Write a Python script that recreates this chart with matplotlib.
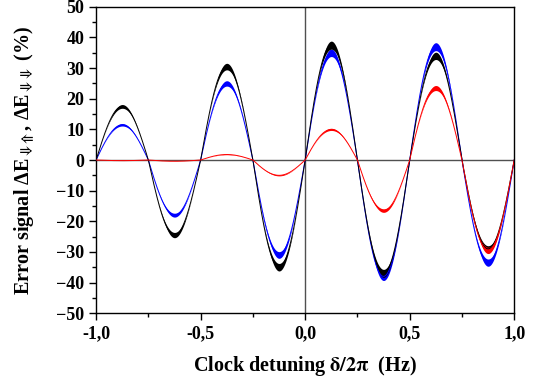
import matplotlib
matplotlib.use('Agg')
import matplotlib.pyplot as plt
import numpy as np
from matplotlib.ticker import MultipleLocator, FuncFormatter

plt.rcParams['font.family'] = ['Liberation Serif', 'DejaVu Serif']
plt.rcParams['font.weight'] = 'bold'
plt.rcParams['mathtext.fontset'] = 'stix'

# lobe centres at -0.875, -0.625, ..., 0.875 (Hz); peak value of each lobe (%)
lobe_centres = [-0.875, -0.625, -0.375, -0.125, 0.125, 0.375, 0.625, 0.875]
black_peaks = [17.5, -24.5, 30.5, -35.0, 37.5, -37.0, 34.0, -29.0]
blue_peaks = [11.5, -18.0, 25.0, -31.0, 35.0, -38.0, 37.0, -33.5]
red_peaks = [-0.2, -0.4, 1.8, -5.0, 10.0, -16.5, 23.5, -29.5]

x = np.linspace(-1, 1, 2001)
k = np.clip(((x + 1) / 0.25).astype(int), 0, 7)
shape = np.abs(np.sin(4 * np.pi * x))


def curve(peaks):
    return np.asarray(peaks)[k] * shape


fig = plt.figure(figsize=(5.43, 3.81), dpi=100)
ax = fig.add_axes([0.177, 0.178, 0.770, 0.804])

ax.axhline(0, color='#505050', lw=1.0, zorder=1)
ax.axvline(0, color='#505050', lw=1.0, zorder=1)

for peaks, col in [(blue_peaks, '#0000ff'), (black_peaks, '#000000'), (red_peaks, '#ff0000')]:
    y = curve(peaks)
    spread = 0.035 * y * shape ** 3
    ax.fill_between(x, y - spread, y + spread, color=col, lw=0, zorder=2)
    ax.plot(x, y, color=col, lw=0.7, zorder=3)

ax.set_xlim(-1, 1)
ax.set_ylim(-50, 50)
ax.xaxis.set_major_locator(MultipleLocator(0.5))
ax.xaxis.set_minor_locator(MultipleLocator(0.25))
ax.yaxis.set_major_locator(MultipleLocator(10))
ax.yaxis.set_minor_locator(MultipleLocator(5))
ax.xaxis.set_major_formatter(FuncFormatter(lambda v, p: ('%.1f' % v).replace('.', ',')))
ax.tick_params(which='both', direction='out', top=False, right=False, width=1.0,
               labelsize=13)
ax.tick_params(which='major', length=5)
ax.tick_params(which='minor', length=3)
for lab in ax.get_xticklabels() + ax.get_yticklabels():
    lab.set_fontweight('bold')
for s in ax.spines.values():
    s.set_linewidth(1.0)

ax.set_xlabel(r'Clock detuning $\mathbf{\delta/2\pi}$  (Hz)', fontsize=14.5,
              fontweight='bold', labelpad=9)
ax.set_ylabel('Error signal \u0394E$_{\\Downarrow\\!\\Uparrow}$, '
              '\u0394E$_{\\Downarrow\\!\\Downarrow}$ (%)',
              fontsize=14.5, fontweight='bold')
ax.yaxis.set_label_coords(-0.142, 0.5)

fig.savefig('out.png', dpi=100)
